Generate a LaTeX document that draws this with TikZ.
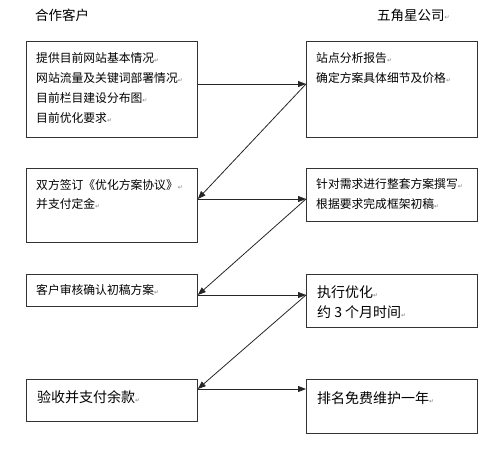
\documentclass[tikz,border=0pt]{standalone}
\usepackage{fontspec}
\newfontfamily\cjk{Noto Sans CJK SC}
\newfontfamily\djv{DejaVu Sans}
\usetikzlibrary{arrows.meta,calc}
\newcommand\retmark{{\djv\fontsize{6}{6}\selectfont\color{black!50}\raisebox{0.3pt}{↵}}}
\tikzset{
  box/.style={draw=black!80, line width=0.8pt, anchor=north west, inner sep=0pt, minimum width=171pt},
  txt/.style={anchor=west, inner sep=0pt, font=\cjk\fontsize{11.8}{13}\selectfont},
  bigtxt/.style={anchor=west, inner sep=0pt, font=\cjk\fontsize{14}{16}\selectfont},
  title/.style={anchor=west, inner sep=0pt, font=\cjk\fontsize{13.5}{16}\selectfont},
  conn/.style={draw=black!85, line width=0.8pt, -{Triangle[length=8pt,width=6pt]}},
}
\begin{document}
\begin{tikzpicture}[x=1pt,y=-1pt]
\path[use as bounding box] (0,0) rectangle (500,452);

% titles
\node[title] (t1) at (35,15) {合作客户};
\node[title] (t2) at (377,15) {五角星公司\retmark};

% boxes
\node[box, minimum height=96pt] (L1) at (26,41) {};
\node[box, minimum height=96pt] (R1) at (306,41) {};
\node[box, minimum height=74pt] (L2) at (26,168) {};
\node[box, minimum height=53pt] (R2) at (306,168) {};
\node[box, minimum height=32pt] (L3) at (26,274) {};
\node[box, minimum height=53pt] (R3) at (306,274) {};
\node[box, minimum height=42pt] (L4) at (26,379) {};
\node[box, minimum height=54pt] (R4) at (306,379) {};

% texts
\node[txt] (l1a) at (36,58) {提供目前网站基本情况\retmark};
\node[txt] (l1b) at (36,78) {网站流量及关键词部署情况\retmark};
\node[txt] (l1c) at (36,98) {目前栏目建设分布图\retmark};
\node[txt] (l1d) at (36,118) {目前优化要求\retmark};

\node[txt] (r1a) at (316,58) {站点分析报告\retmark};
\node[txt] (r1b) at (316,78) {确定方案具体细节及价格\retmark};

\node[txt] (l2a) at (36,185) {双方签订《优化方案协议》\retmark};
\node[txt] (l2b) at (36,204) {并支付定金\retmark};

\node[txt] (r2a) at (316,184) {针对需求进行整套方案撰写\retmark};
\node[txt] (r2b) at (316,204) {根据要求完成框架初稿\retmark};

\node[txt] (l3a) at (36,290) {客户审核确认初稿方案\retmark};

\node[bigtxt] (r3a) at (317,292) {执行优化\retmark};
\node[bigtxt] (r3b) at (317,312) {约 3 个月时间\retmark};

\node[bigtxt] (l4a) at (37,397) {验收并支付余款\retmark};
\node[bigtxt] (r4a) at (317,398) {排名免费维护一年\retmark};

% connectors
\draw[conn] ($(L1.north east)+(0,43)$) -- ($(R1.north west)+(0,43)$);
\draw[conn] ($(R1.north west)+(0,43)$) -- ($(L2.north east)+(0,31)$);
\draw[conn] ($(L2.north east)+(0,31)$) -- ($(R2.north west)+(0,31)$);
\draw[conn] ($(R2.north west)+(0,31)$) -- ($(L3.north east)+(0,21)$);
\draw[conn] ($(L3.north east)+(0,21)$) -- ($(R3.north west)+(0,21)$);
\draw[conn] ($(R3.north west)+(0,21)$) -- ($(L4.north east)+(0,10)$);
\draw[conn] ($(L4.north east)+(0,10)$) -- ($(R4.north west)+(0,10)$);
\end{tikzpicture}
\end{document}
